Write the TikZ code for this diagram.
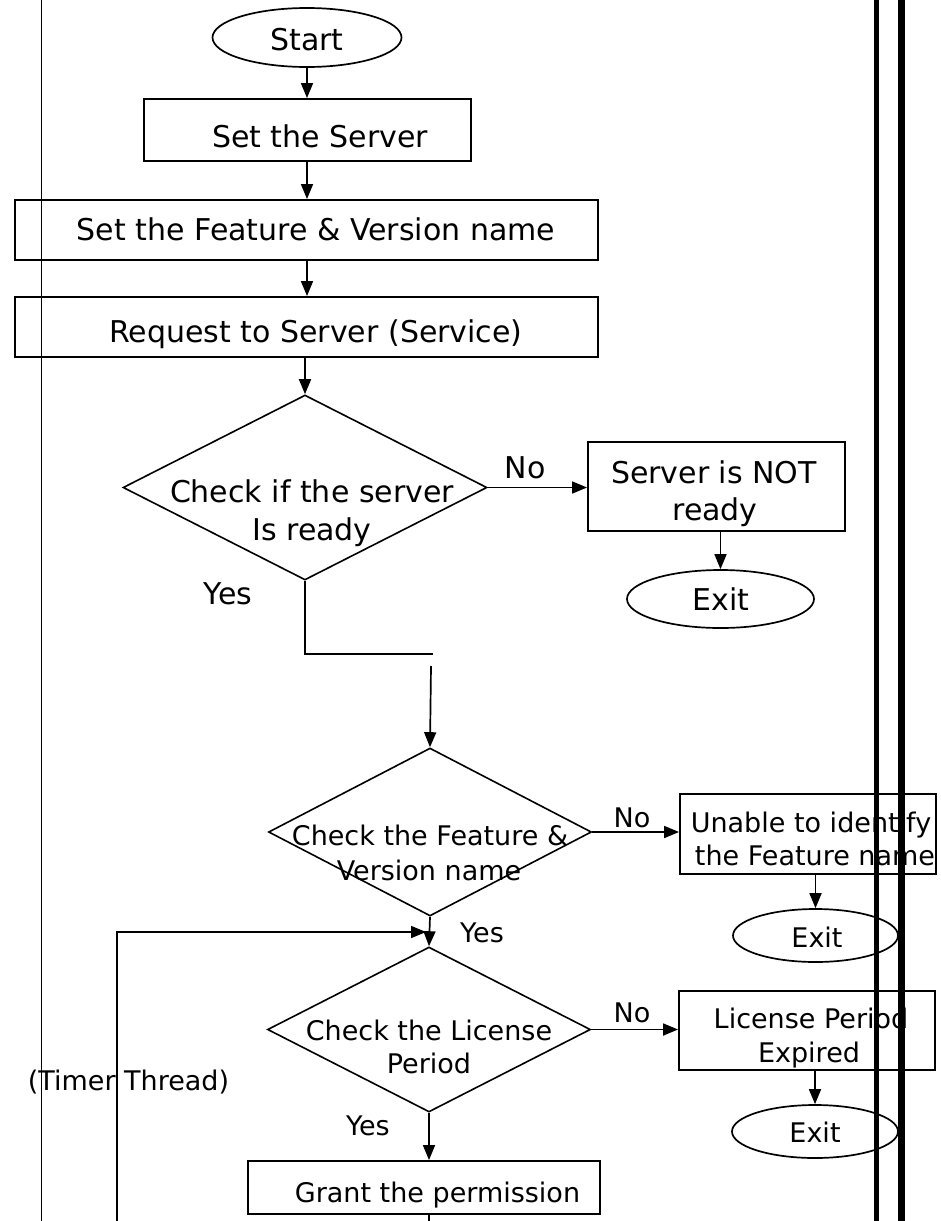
\documentclass[tikz,border=0pt]{standalone}
\usepackage{fontspec}
\setmainfont{DejaVu Sans}
\usetikzlibrary{shapes.geometric,arrows.meta}

\tikzset{
  line/.style={line width=1.7pt},
  arr/.style={line width=1.7pt,-{Triangle[length=15pt,width=12pt]}},
  boxshape/.style={draw,line width=1.9pt,rectangle,inner sep=0pt},
  ovalshape/.style={draw,line width=1.7pt,ellipse,inner sep=0pt},
  decshape/.style={draw,line width=1.6pt,diamond,inner sep=0pt},
  big/.style={anchor=base,inner sep=0pt,font=\fontsize{30}{36}\selectfont},
  small/.style={anchor=base,inner sep=0pt,font=\fontsize{27}{32}\selectfont},
  rail/.style={line width=#1}
}

\begin{document}
\begin{tikzpicture}[x=1pt,y=-1pt]
\useasboundingbox (0,0) rectangle (940,1221);
\fill[white] (0,0) rectangle (940,1221);

% left margin rule
\draw[line width=1.5pt] (41.5,0) -- (41.5,1221);

% ---- shapes ----
\node[ovalshape,minimum width=189pt,minimum height=59pt] (start) at (307,37.5) {};
\node[boxshape,minimum width=327pt,minimum height=62pt] (server) at (307.5,130) {};
\node[boxshape,minimum width=583pt,minimum height=60pt] (feature) at (306.5,230) {};
\node[boxshape,minimum width=583pt,minimum height=60pt] (request) at (306.5,327) {};
\node[decshape,minimum width=364pt,minimum height=185pt] (ready) at (305,487.5) {};
\node[boxshape,minimum width=257pt,minimum height=89pt] (notready) at (716.5,486.5) {};
\node[ovalshape,minimum width=187pt,minimum height=58pt] (exitA) at (720.5,599) {};

\node[decshape,minimum width=323pt,minimum height=168pt] (checkfeat) at (430,832) {};
\node[boxshape,minimum width=256pt,minimum height=80pt] (unable) at (808,834) {};
\node[ovalshape,minimum width=165pt,minimum height=53pt] (exitB) at (815.5,935.5) {};

\node[decshape,minimum width=323pt,minimum height=165pt] (license) at (429,1029.5) {};
\node[boxshape,minimum width=256pt,minimum height=79pt] (expired) at (807,1030.5) {};
\node[ovalshape,minimum width=166pt,minimum height=53pt] (exitC) at (815,1131.5) {};

\node[boxshape,minimum width=352pt,minimum height=53pt] (grant) at (424,1187.5) {};

% ---- texts ----
\node[big] (tStart) at (307,50) {Start};
\node[big] (tServer) at (320,147) {Set the Server};
\node[big] (tFeature) at (316,240) {Set the Feature \& Version name};
\node[big] (tRequest) at (316,342) {Request to Server (Service)};
\node[big] (tReady1) at (312,502) {Check if the server};
\node[big] (tReady2) at (312,540) {Is ready};
\node[big] (tNo1) at (525,478) {No};
\node[big] (tNot1) at (714,483) {Server is NOT};
\node[big] (tNot2) at (715,520) {ready};
\node[big] (tExitA) at (721,610) {Exit};
\node[big] (tYes1) at (228,604) {Yes};

\node[small] (tFeat1) at (430,845) {Check the Feature \&};
\node[small] (tFeat2) at (429,880) {Version name};
\node[small] (tNo2) at (632,827) {No};
\node[small] (tUnable1) at (811,832) {Unable to identify};
\node[small] (tUnable2) at (815,865) {the Feature name};
\node[small] (tExitB) at (817,947) {Exit};
\node[small] (tYes2) at (482,942) {Yes};

\node[small] (tLic1) at (429,1040) {Check the License};
\node[small] (tLic2) at (429,1073) {Period};
\node[small] (tNo3) at (632,1022) {No};
\node[small] (tExp1) at (811,1028) {License Period};
\node[small] (tExp2) at (809,1062) {Expired};
\node[small] (tExitC) at (815,1142) {Exit};
\node[small] (tYes3) at (368,1135) {Yes};
\node[small] (tGrant) at (437.5,1202) {Grant the permission};
\node[small] (tTimer) at (128.5,1090) {(Timer Thread)};

% ---- connectors ----
\draw[arr] (start.south) -- (server.north -| start.south);
\draw[arr] (server.south -| start.south) -- (feature.north -| start.south);
\draw[arr] (feature.south -| start.south) -- (request.north -| start.south);
\draw[arr] (request.south -| ready.north) -- (ready.north);
\draw[arr] (ready.east) -- (notready.west |- ready.east);
\draw[arr] (exitA.north |- notready.south) -- (exitA.north);

\coordinate (yesA) at (433,654);
\coordinate (yesB) at (431,666);
\draw[line] (ready.south) |- (yesA);
\draw[arr] (yesB) -- (checkfeat.north);

\draw[arr] (checkfeat.east) -- (unable.west |- checkfeat.east);
\draw[arr] (exitB.north |- unable.south) -- (exitB.north);
\draw[arr] (checkfeat.south) -- (license.north);

\coordinate (loopFoot) at (117,1221);
\coordinate (loopTip) at (426,932);
\draw[arr] (loopFoot) |- (loopTip);

\draw[arr] (license.east) -- (expired.west |- license.east);
\draw[arr] (exitC.north |- expired.south) -- (exitC.north);
\draw[arr] (license.south) -- (license.south |- grant.north);
\coordinate (grantFoot) at (429,1221);
\draw[line] (license.south |- grant.south) -- (grantFoot);

% right-hand page rules, printed over the diagram
\draw[rail=5pt] (876,0) -- (876,1221);
\draw[rail=6.5pt] (901.5,0) -- (901.5,1221);
\end{tikzpicture}
\end{document}
